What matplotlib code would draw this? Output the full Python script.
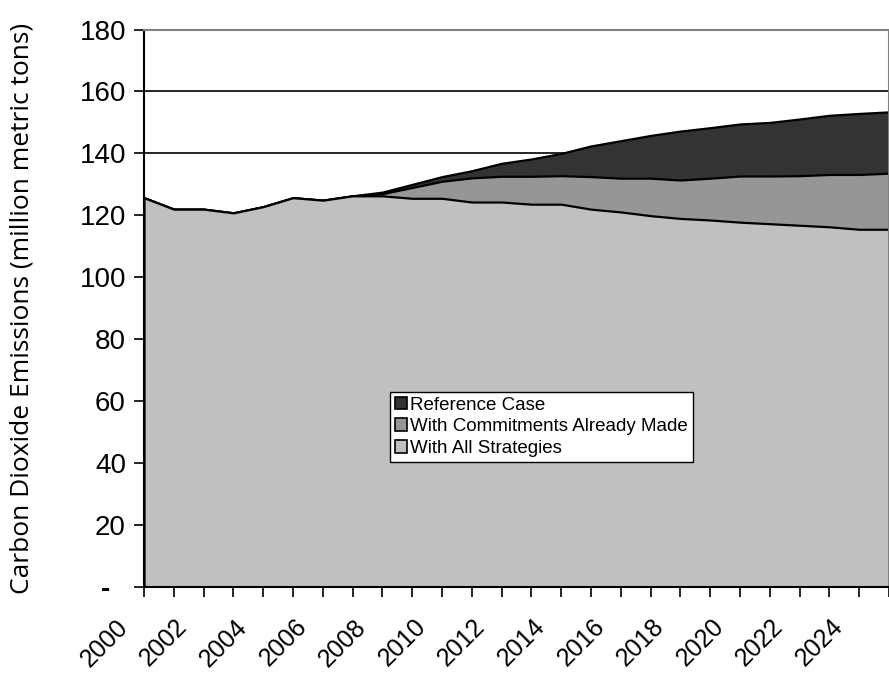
import matplotlib
matplotlib.use("Agg")
import matplotlib.pyplot as plt
import matplotlib.transforms as mtransforms
from matplotlib.patches import Patch

years = list(range(2000, 2026))

reference_case = [125.7, 122.0, 122.0, 120.8, 122.8, 125.7, 124.9, 126.3, 127.5, 130.0,
                  132.5, 134.4, 136.8, 138.2, 140.0, 142.4, 144.1, 145.8, 147.2, 148.3,
                  149.5, 150.0, 151.1, 152.3, 152.9, 153.4]
commitments = [125.7, 122.0, 122.0, 120.8, 122.8, 125.7, 124.9, 126.3, 127.0, 129.0,
               131.0, 132.1, 132.6, 132.6, 132.8, 132.5, 132.0, 132.0, 131.4, 132.0,
               132.7, 132.7, 132.8, 133.2, 133.2, 133.6]
all_strategies = [125.7, 122.0, 122.0, 120.8, 122.8, 125.7, 124.9, 126.3, 126.3, 125.5,
                  125.5, 124.3, 124.3, 123.6, 123.6, 122.0, 121.1, 119.9, 119.0, 118.5,
                  117.8, 117.3, 116.8, 116.3, 115.5, 115.5]

labels = ["Reference Case", "With Commitments Already Made", "With All Strategies"]
colors = ["#333333", "#969696", "#c0c0c0"]

fig = plt.figure(figsize=(8.89, 6.77), dpi=100)
ax = fig.add_axes([144 / 889, 90 / 677, 745 / 889, 557.5 / 677])

# grid first, areas drawn on top (Excel style overlapping areas)
for v in range(20, 180, 20):
    ax.axhline(v, color="black", lw=1.2, zorder=0)

for series, c in zip([reference_case, commitments, all_strategies], colors):
    ax.fill_between(years, 0, series, facecolor=c, edgecolor="black", lw=1.6, zorder=2)

ax.set_xlim(2000, 2025)
ax.set_ylim(0, 180)

ax.set_yticks(range(0, 181, 20))
ax.set_yticklabels(["-  "] + [str(v) for v in range(20, 181, 20)],
                   fontsize=20, family="Liberation Sans")
ax.get_yticklabels()[0].set_fontweight("bold")
ax.set_xticks(years)
ax.set_xticklabels([str(y) if y % 2 == 0 else "" for y in years],
                   rotation=45, ha="right", va="center", rotation_mode="anchor",
                   fontsize=18, family="Liberation Sans")
ax.tick_params(axis="both", direction="out", length=7, width=1.2, color="black")
ax.tick_params(axis="x", pad=19)
ax.tick_params(axis="y", pad=6)

# labels sit a little left of their ticks, like the original
shift = mtransforms.ScaledTranslation(-20 / 100, 0, fig.dpi_scale_trans)
for lab in ax.get_xticklabels():
    lab.set_transform(lab.get_transform() + shift)

ax.set_ylabel("Carbon Dioxide Emissions (million metric tons)",
              fontsize=19, family="Open Sans", labelpad=32)

ax.spines["left"].set_color("black")
ax.spines["left"].set_linewidth(1.5)
ax.spines["bottom"].set_color("black")
ax.spines["bottom"].set_linewidth(1.5)
for s in ["top", "right"]:
    ax.spines[s].set_color("#808080")
    ax.spines[s].set_linewidth(1.5)
for s in ax.spines.values():
    s.set_zorder(5)

handles = [Patch(facecolor=c, edgecolor="black", lw=1.2) for c in colors]
leg = ax.legend(handles, labels, loc="lower left", bbox_to_anchor=(0.33, 0.225),
                prop={"family": "Liberation Sans", "size": 13.5},
                frameon=True, fancybox=False, edgecolor="black", framealpha=1,
                handlelength=0.65, handleheight=0.65, handletextpad=0.2,
                labelspacing=0.25, borderpad=0.25, borderaxespad=0)
leg.get_frame().set_linewidth(1.0)
leg.set_zorder(6)

fig.savefig("out.png", dpi=100)
